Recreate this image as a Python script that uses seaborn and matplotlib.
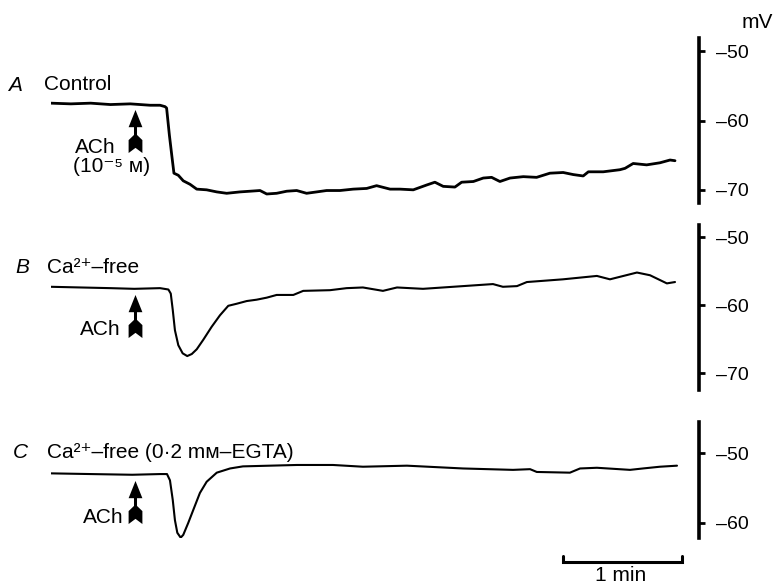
import numpy as np
import matplotlib
matplotlib.use("Agg")
import matplotlib.pyplot as plt
import matplotlib.transforms as mtransforms
from matplotlib.path import Path
import seaborn as sns

# ---------------- data (time in s, membrane potential in mV) ----------------
time_a = [0, 10, 20, 30, 40, 50, 55.0, 57.5, 58.3, 59.7, 60.9, 62.0, 64.2, 66.7, 70.1, 73.5, 78.5,
          83.6, 88.6, 95.3, 100.4, 105.4, 108.8, 113.8, 118.9, 123.9, 128.9, 134.0, 139.0, 145.7,
          152.4, 159.2, 164.2, 171.0, 176.0, 182.7, 189.5, 193.6, 197.8, 203.7, 207.1, 213.0,
          218.0, 222.2, 226.4, 231.5, 238.2, 244.9, 251.6, 258.3, 263.4, 268.4, 271.0, 278.5,
          286.9, 289.5, 293.6, 300.4, 307.1, 312.2, 314.7]
mv_a = [-57.5, -57.6, -57.5, -57.7, -57.6, -57.8, -57.8, -58.0, -58.2, -62.1, -65.0, -67.6, -67.9,
        -68.7, -69.2, -69.9, -70.0, -70.3, -70.5, -70.3, -70.2, -70.1, -70.6, -70.5, -70.2, -70.1,
        -70.5, -70.3, -70.1, -70.1, -69.9, -69.8, -69.4, -69.9, -69.9, -70.0, -69.3, -68.9, -69.5,
        -69.6, -68.9, -68.8, -68.3, -68.2, -68.8, -68.3, -68.1, -68.2, -67.6, -67.5, -67.8, -68.0,
        -67.4, -67.4, -67.1, -66.9, -66.2, -66.4, -66.1, -65.7, -65.8]

time_b = [0, 15, 30, 42, 55, 59.2, 60.4, 61.4, 62.5, 64.2, 66.4, 68.7, 71.0, 73.5, 76.8, 81.0,
          85.2, 89.4, 93.6, 98.7, 103.7, 108.8, 113.8, 122.2, 127.2, 140.7, 149.1, 157.3, 167.4,
          174.5, 187.6, 207.8, 222.9, 227.9, 235, 240, 258.2, 275.3, 281.9, 295.5, 302.1, 310.6,
          314.7]
mv_b = [-57.3, -57.4, -57.5, -57.6, -57.5, -57.7, -58.3, -60.7, -63.7, -65.9, -67.1, -67.5, -67.2,
        -66.5, -65.1, -63.2, -61.5, -60.1, -59.8, -59.4, -59.2, -58.9, -58.5, -58.5, -57.9, -57.8,
        -57.5, -57.4, -57.9, -57.4, -57.6, -57.2, -56.9, -57.3, -57.2, -56.6, -56.2, -55.7, -56.2,
        -55.2, -55.6, -56.8, -56.6]

time_c = [0, 20, 41, 55, 58.5, 60.0, 61.4, 62.5, 63.7, 65.4, 66.7, 69.2, 71.8, 75.1, 78.5, 83.6,
          90.3, 96.8, 124, 142.2, 157.3, 179.5, 207.8, 233, 241.6, 245, 261.7, 266.8, 275.3, 292,
          298.5, 307.1, 315.7]
mv_c = [-52.9, -53.0, -53.1, -53.0, -53.0, -53.9, -56.7, -59.6, -61.4, -62.1, -61.7, -60.0, -58.1,
        -55.7, -54.1, -52.8, -52.2, -51.9, -51.7, -51.7, -51.95, -51.8, -52.2, -52.4, -52.3, -52.7,
        -52.8, -52.2, -52.1, -52.4, -52.2, -51.95, -51.8]

ticks_a = [-50, -60, -70]
ticks_b = [-50, -60, -70]
ticks_c = [-50, -60]

ach_time_s = 42.5
scale_bar_start_s = 258
scale_bar_len_s = 60

panel_letters = ["A", "B", "C"]
panel_titles = ["Control", "Ca²⁺–free", "Ca²⁺–free (0·2 mᴍ–EGTA)"]
conc_label = "(10⁻⁵ ᴍ)"
drug_label = "ACh"
unit_label = "mV"
scale_label = "1 min"

# ---------------- style ----------------
sns.set_style("white")
plt.rcParams["font.family"] = ["Liberation Sans", "DejaVu Sans"]

W, H = 776, 585
fig = plt.figure(figsize=(W / 100, H / 100), dpi=100)


def box(left, top, right, bottom):
    return [left / W, 1 - bottom / H, (right - left) / W, (bottom - top) / H]


def ftext(x, y, s, **kw):
    fig.text(x / W, 1 - y / H, s, va="baseline", color="black", **kw)


XLIM = (0, 326.8)
panels = [
    (time_a, mv_a, ticks_a, (-71.9, -48.1), box(51, 38, 699, 203), 2.0),
    (time_b, mv_b, ticks_b, (-72.5, -48.2), box(51, 225, 699, 390), 1.5),
    (time_c, mv_c, ticks_c, (-62.15, -45.55), box(51, 422, 699, 538), 1.5),
]

arrow_verts = [(0, 0.5), (0.16, 0.1), (0.035, 0.1), (0.035, -0.08), (0.16, -0.2), (0.16, -0.5),
               (0, -0.38), (-0.16, -0.5), (-0.16, -0.2), (-0.035, -0.08), (-0.035, 0.1),
               (-0.16, 0.1), (0, 0.5)]
arrow_path = Path(arrow_verts, [Path.MOVETO] + [Path.LINETO] * (len(arrow_verts) - 2) + [Path.CLOSEPOLY])

axes = []
for t, v, ticks, ylim, pos, lw in panels:
    ax = fig.add_axes(pos)
    sns.lineplot(x=t, y=v, ax=ax, color="black", linewidth=lw, estimator=None)
    ax.lines[-1].set_solid_joinstyle("round")
    ax.set_xlim(XLIM)
    ax.set_ylim(ylim)
    for side in ["left", "top", "bottom"]:
        ax.spines[side].set_visible(False)
    ax.spines["right"].set_visible(True)
    ax.spines["right"].set_linewidth(2.6)
    ax.spines["right"].set_color("black")
    ax.set_xticks([])
    ax.yaxis.tick_right()
    ax.set_yticks(ticks)
    ax.set_yticklabels([f"–{abs(k)}" for k in ticks])
    ax.tick_params(axis="y", direction="out", length=4.5, width=2.0, pad=8,
                   labelsize=14, colors="black")
    ax.set_xlabel("")
    ax.set_ylabel("")
    ax.patch.set_alpha(0)
    # ACh application arrow
    y_at = np.interp(ach_time_s, t, v)
    trans = mtransforms.offset_copy(ax.transData, fig=fig, y=-19.5, units="points")
    ax.plot([ach_time_s], [y_at], marker=arrow_path, markersize=31, color="black",
            markeredgewidth=0, linestyle="none", transform=trans, clip_on=False)
    axes.append(ax)

# time scale bar under panel C
axc = axes[2]
bt = mtransforms.blended_transform_factory(axc.transData, axc.transAxes)
x0, x1 = scale_bar_start_s, scale_bar_start_s + scale_bar_len_s
axc.plot([x0, x0, x1, x1], [-0.155, -0.207, -0.207, -0.155], color="black", lw=2.2,
         transform=bt, clip_on=False, solid_joinstyle="miter")

# texts
FS = 15
ftext(8, 91, panel_letters[0], fontsize=FS, style="italic")
ftext(44, 90, panel_titles[0], fontsize=FS)
ftext(15, 273, panel_letters[1], fontsize=FS, style="italic")
ftext(47, 273, panel_titles[1], fontsize=FS)
ftext(13, 458, panel_letters[2], fontsize=FS, style="italic")
ftext(47, 458, panel_titles[2], fontsize=FS)

ftext(75, 153, drug_label, fontsize=FS)
ftext(73, 172, conc_label, fontsize=FS)
ftext(80, 335, drug_label, fontsize=FS)
ftext(83, 523, drug_label, fontsize=FS)

ftext(742, 28, unit_label, fontsize=FS)
ftext(621, 581, scale_label, fontsize=FS, ha="center")

fig.savefig("out.png", dpi=100)
